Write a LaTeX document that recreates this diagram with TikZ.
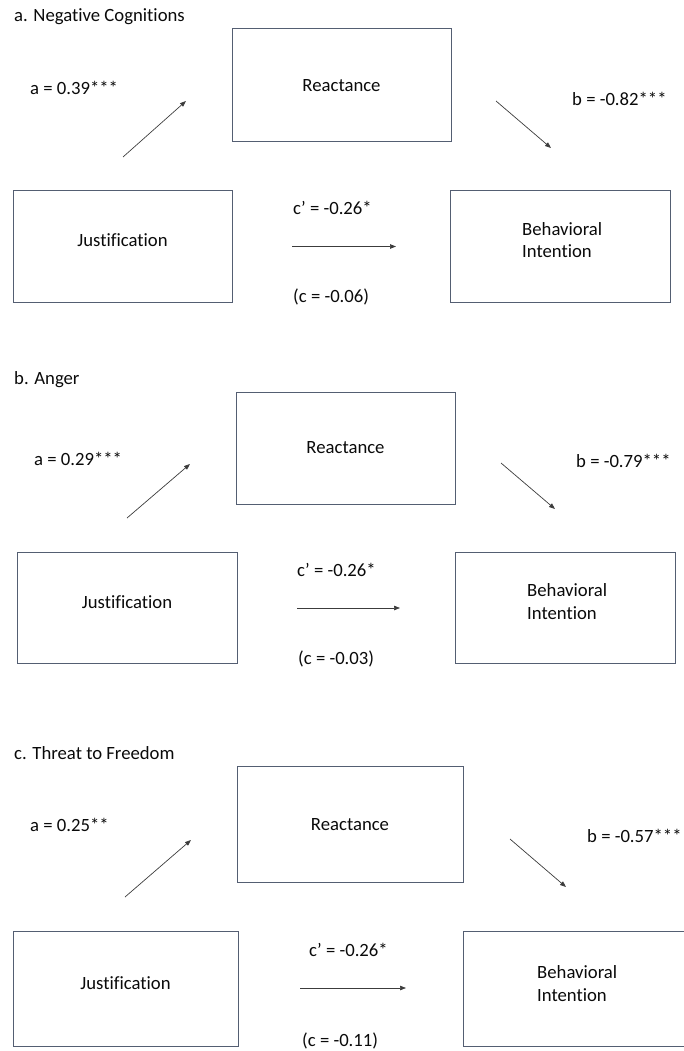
\documentclass[tikz,border=0pt]{standalone}
\usepackage{fontspec}
\setmainfont{Carlito}[Ligatures={NoCommon,NoRare}]
\usetikzlibrary{arrows.meta}
\definecolor{boxline}{RGB}{84,94,114}
\definecolor{arrowline}{RGB}{60,60,60}
\definecolor{txt}{RGB}{10,10,10}
\begin{document}
\begin{tikzpicture}[x=1pt,y=-1pt,
  every node/.style={font=\fontsize{18.7}{22.5}\selectfont, text=txt},
  varbox/.style={draw=boxline, line width=1pt, minimum width=#1, inner sep=0pt},
  lbl/.style={anchor=west, inner sep=0pt},
  ctext/.style={inner sep=0pt},
  bitext/.style={inner sep=0pt, align=left, anchor=west},
  patharrow/.style={draw=arrowline, line width=0.7pt, -{Triangle[length=6pt,width=4.5pt]}}
]
\useasboundingbox (0,0) rectangle (684,1051);

% ---------- Panel a ----------
\node[lbl] (ta) at (14,17) {a. Negative Cognitions};
\node[varbox=219pt, minimum height=113pt] (Ra) at (341.5,85.5) {};
\node[ctext] (Rta) at (341.5,86) {Reactance};
\node[varbox=219pt, minimum height=112pt] (Ja) at (122.5,246) {};
\node[ctext] (Jta) at (122.5,240) {Justification};
\node[varbox=220pt, minimum height=112pt] (Ba) at (560,246) {};
\node[bitext] (Bta) at (522,240) {Behavioral\\Intention};
\node[lbl] (la) at (30,88) {a = 0.39***};
\node[lbl] (lba) at (572,99) {b = -0.82***};
\node[lbl] (lca) at (293,208) {c’ = -0.26*};
\node[lbl] (lcta) at (293,297) {(c = -0.06)};
\coordinate (a1s) at (123,157); \coordinate (a1e) at (186,101);
\coordinate (b1s) at (496,101); \coordinate (b1e) at (551,148);
\coordinate (c1s) at (292,246.5); \coordinate (c1e) at (396,246.5);
\draw[patharrow] (a1s) -- (a1e);
\draw[patharrow] (b1s) -- (b1e);
\draw[patharrow] (c1s) -- (c1e);

% ---------- Panel b ----------
\node[lbl] (tb) at (14,380) {b. Anger};
\node[varbox=219pt, minimum height=112pt] (Rb) at (345.5,448) {};
\node[ctext] (Rtb) at (345.5,448) {Reactance};
\node[varbox=220pt, minimum height=111pt] (Jb) at (127,607.5) {};
\node[ctext] (Jtb) at (127,602) {Justification};
\node[varbox=220pt, minimum height=111pt] (Bb) at (565,607.5) {};
\node[bitext] (Btb) at (527,601.5) {Behavioral\\Intention};
\node[lbl] (lab) at (34,459) {a = 0.29***};
\node[lbl] (lbb) at (576,461) {b = -0.79***};
\node[lbl] (lcb) at (297,570) {c’ = -0.26*};
\node[lbl] (lctb) at (298,659) {(c = -0.03)};
\coordinate (a2s) at (127,518); \coordinate (a2e) at (190,464);
\coordinate (b2s) at (501,463); \coordinate (b2e) at (555,509);
\coordinate (c2s) at (297,608); \coordinate (c2e) at (400,608);
\draw[patharrow] (a2s) -- (a2e);
\draw[patharrow] (b2s) -- (b2e);
\draw[patharrow] (c2s) -- (c2e);

% ---------- Panel c ----------
\node[lbl] (tc) at (14,753) {c. Threat to Freedom};
\node[varbox=226pt, minimum height=116pt] (Rc) at (350,824) {};
\node[ctext] (Rtc) at (350,825) {Reactance};
\node[varbox=225pt, minimum height=115pt] (Jc) at (125.5,988.5) {};
\node[ctext] (Jtc) at (125.5,983) {Justification};
\node[varbox=224pt, minimum height=115pt] (Bc) at (575,988.5) {};
\node[bitext] (Btc) at (537,983.5) {Behavioral\\Intention};
\node[lbl] (lac) at (30,825) {a = 0.25**};
\node[lbl] (lbc) at (587,836) {b = -0.57***};
\node[lbl] (lcc) at (309,950) {c’ = -0.26*};
\node[lbl] (lctc) at (302,1041) {(c = -0.11)};
\coordinate (a3s) at (125,897); \coordinate (a3e) at (191,840);
\coordinate (b3s) at (510,839); \coordinate (b3e) at (566,887);
\coordinate (c3s) at (300,988); \coordinate (c3e) at (406,988);
\draw[patharrow] (a3s) -- (a3e);
\draw[patharrow] (b3s) -- (b3e);
\draw[patharrow] (c3s) -- (c3e);
\end{tikzpicture}
\end{document}
